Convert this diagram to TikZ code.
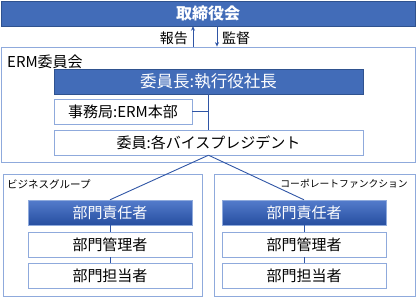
\documentclass[tikz,border=0pt]{standalone}
\usepackage{fontspec}
\setmainfont{Noto Sans CJK JP}
\usetikzlibrary{calc,arrows.meta}
\definecolor{barblue}{RGB}{66,108,184}
\definecolor{bardark}{RGB}{47,82,143}
\definecolor{lightb}{RGB}{143,170,220}
\definecolor{lineb}{RGB}{47,85,165}
\definecolor{gradtop}{RGB}{84,124,204}
\definecolor{gradbot}{RGB}{38,78,160}
\tikzset{
  bar/.style={draw=bardark,fill=barblue,text=white,minimum height=25pt,inner sep=0pt,font=\fontsize{15}{15}\selectfont},
  gbar/.style={draw=lightb,top color=gradtop,bottom color=gradbot,text=white,minimum height=25pt,inner sep=0pt,font=\fontsize{15}{15}\selectfont},
  wbox/.style={draw=lightb,fill=white,text=black,minimum height=25pt,inner sep=0pt,font=\fontsize{15}{15}\selectfont},
  frame/.style={draw=lightb,line width=0.8pt,inner sep=0pt},
  conn/.style={draw=lineb,line width=0.9pt},
  arr/.style={draw=lineb,line width=1pt,-{Stealth[length=4.5pt,width=4pt]}},
  lbl/.style={inner sep=0pt,font=\fontsize{14}{14}\selectfont},
  glbl/.style={inner sep=0pt,font=\fontsize{10.5}{10.5}\selectfont},
}
\begin{document}
\begin{tikzpicture}[x=1pt,y=-1pt]
\useasboundingbox (0,0) rectangle (416,297);
% frames
\node[frame,minimum width=414pt,minimum height=115pt] (erm) at (208,104.5) {};
\node[frame,minimum width=199pt,minimum height=122pt] (gl) at (102.5,235) {};
\node[frame,minimum width=201pt,minimum height=122pt] (gr) at (314.5,235) {};
% top bar
\node[bar,minimum width=414pt,font=\bfseries\fontsize{16}{16}\selectfont] (top) at (208,13.5) {取締役会};
\coordinate (upx) at (193,30);
\coordinate (dnx) at (217,30);
\draw[arr] (upx |- erm.north) -- (upx |- top.south);
\draw[arr] (dnx |- top.south) -- (dnx |- erm.north);
\node[lbl,anchor=east] (hk) at (188,38.5) {報告};
\node[lbl,anchor=west] (kt) at (222,38.5) {監督};
% ERM
\node[lbl,anchor=west,font=\fontsize{15}{15}\selectfont] (ermlbl) at (7,61.5) {ERM委員会};
\node[bar,minimum width=309pt,font=\fontsize{16.5}{16.5}\selectfont] (chair) at (208.5,81.5) {委員長:執行役社長};
\node[wbox,minimum width=138pt] (sec) at (123,111.5) {事務局:ERM本部};
\node[wbox,minimum width=309pt] (mem) at (208.5,142.5) {委員:各バイスプレジデント};
\draw[conn] (chair.south) -- (mem.north);
\draw[conn] (sec.east) -- (sec.east -| chair.south);
% groups
\node[glbl,anchor=west] (bgl) at (7,184) {ビジネスグループ};
\node[glbl,anchor=east,font=\fontsize{9.8}{9.8}\selectfont] (cfl) at (408,184) {コーポレートファンクション};
\node[gbar,minimum width=164pt] (l1) at (110,212.5) {部門責任者};
\node[wbox,minimum width=164pt] (l2) at (110,244.5) {部門管理者};
\node[wbox,minimum width=164pt] (l3) at (110,276) {部門担当者};
\node[gbar,minimum width=164pt] (r1) at (304,212.5) {部門責任者};
\node[wbox,minimum width=164pt] (r2) at (304,244.5) {部門管理者};
\node[wbox,minimum width=164pt] (r3) at (304,276) {部門担当者};
\draw[conn] (mem.south) -- (l1.north);
\draw[conn] (mem.south) -- (r1.north);
\draw[conn] (l1) -- (l2);
\draw[conn] (l2) -- (l3);
\draw[conn] (r1) -- (r2);
\draw[conn] (r2) -- (r3);
\end{tikzpicture}
\end{document}
